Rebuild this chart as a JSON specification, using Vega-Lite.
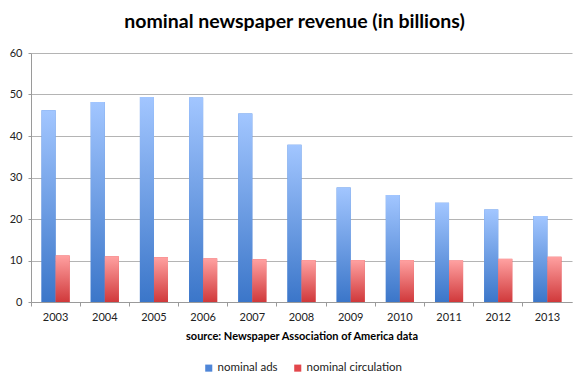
{
  "$schema": "https://vega.github.io/schema/vega-lite/v6.json",
  "width": 541,
  "height": 249,
  "autosize": "none",
  "padding": {"left": 31, "top": 53, "right": 16, "bottom": 87},
  "background": "white",
  "title": {
    "text": "nominal newspaper revenue (in billions)",
    "font": "Lato",
    "fontSize": 19.5,
    "fontWeight": "bold",
    "color": "#000000",
    "anchor": "middle",
    "dx": -7,
    "offset": 15
  },
  "data": {
    "values": [
      {"year": "2003", "series": "nominal ads", "value": 46.2},
      {"year": "2004", "series": "nominal ads", "value": 48.2},
      {"year": "2005", "series": "nominal ads", "value": 49.4},
      {"year": "2006", "series": "nominal ads", "value": 49.3},
      {"year": "2007", "series": "nominal ads", "value": 45.4},
      {"year": "2008", "series": "nominal ads", "value": 37.9},
      {"year": "2009", "series": "nominal ads", "value": 27.6},
      {"year": "2010", "series": "nominal ads", "value": 25.8},
      {"year": "2011", "series": "nominal ads", "value": 23.9},
      {"year": "2012", "series": "nominal ads", "value": 22.3},
      {"year": "2013", "series": "nominal ads", "value": 20.7},
      {"year": "2003", "series": "nominal circulation", "value": 11.2},
      {"year": "2004", "series": "nominal circulation", "value": 11.0},
      {"year": "2005", "series": "nominal circulation", "value": 10.8},
      {"year": "2006", "series": "nominal circulation", "value": 10.5},
      {"year": "2007", "series": "nominal circulation", "value": 10.3},
      {"year": "2008", "series": "nominal circulation", "value": 10.1},
      {"year": "2009", "series": "nominal circulation", "value": 10.1},
      {"year": "2010", "series": "nominal circulation", "value": 10.1},
      {"year": "2011", "series": "nominal circulation", "value": 10.0},
      {"year": "2012", "series": "nominal circulation", "value": 10.4},
      {"year": "2013", "series": "nominal circulation", "value": 10.9}
    ]
  },
  "encoding": {
    "x": {
      "field": "year",
      "type": "nominal",
      "scale": {"paddingInner": 0, "paddingOuter": 0},
      "axis": {
        "title": "source: Newspaper Association of America data",
        "titleFont": "Lato",
        "titleFontSize": 11,
        "titleFontWeight": "bold",
        "titleColor": "#000000",
        "titlePadding": 8,
        "labelAngle": 0,
        "labelFont": "Lato",
        "labelFontSize": 11,
        "labelColor": "#222222",
        "labelPadding": 5,
        "bandPosition": 0,
        "labelBound": false,
        "ticks": true,
        "tickSize": 4,
        "tickColor": "#9a9a9a",
        "domainColor": "#9a9a9a",
        "grid": false
      }
    },
    "xOffset": {"field": "series", "type": "nominal", "scale": {"paddingOuter": 0.75, "paddingInner": 0}},
    "y": {
      "field": "value",
      "type": "quantitative",
      "scale": {"domain": [0, 60]},
      "axis": {
        "title": null,
        "values": [0, 10, 20, 30, 40, 50, 60],
        "labelFont": "Lato",
        "labelFontSize": 11,
        "labelColor": "#222222",
        "labelPadding": 6,
        "tickSize": 3,
        "tickColor": "#9a9a9a",
        "domainColor": "#9a9a9a",
        "gridColor": "#b4b4b4",
        "grid": true
      }
    }
  },
  "layer": [
    {
      "mark": {"type": "bar"},
      "encoding": {
        "color": {
          "field": "series",
          "type": "nominal",
          "scale": {"domain": ["nominal ads", "nominal circulation"], "range": ["#4f86d8", "#e3474c"]},
          "legend": {
            "title": null,
            "orient": "none",
            "direction": "horizontal",
            "legendX": 172,
            "legendY": 309,
            "symbolType": "square",
            "symbolSize": 50,
            "symbolStrokeWidth": 0,
            "labelFont": "Lato",
            "labelFontSize": 11.5,
            "labelColor": "#222222",
            "columnPadding": 14,
            "labelOffset": 3
          }
        }
      }
    },
    {
      "mark": {"type": "bar"},
      "encoding": {
        "fill": {
          "condition": {
            "test": "datum.series === 'nominal ads'",
            "value": {
              "gradient": "linear", "x1": 0, "y1": 0, "x2": 0, "y2": 1,
              "stops": [{"offset": 0, "color": "#a2c6ff"}, {"offset": 1, "color": "#3b76c9"}]
            }
          },
          "value": {
            "gradient": "linear", "x1": 0, "y1": 0, "x2": 0, "y2": 1,
            "stops": [{"offset": 0, "color": "#ffa1a1"}, {"offset": 1, "color": "#d0393b"}]
          }
        }
      }
    }
  ],
  "config": {"view": {"stroke": null}}
}
